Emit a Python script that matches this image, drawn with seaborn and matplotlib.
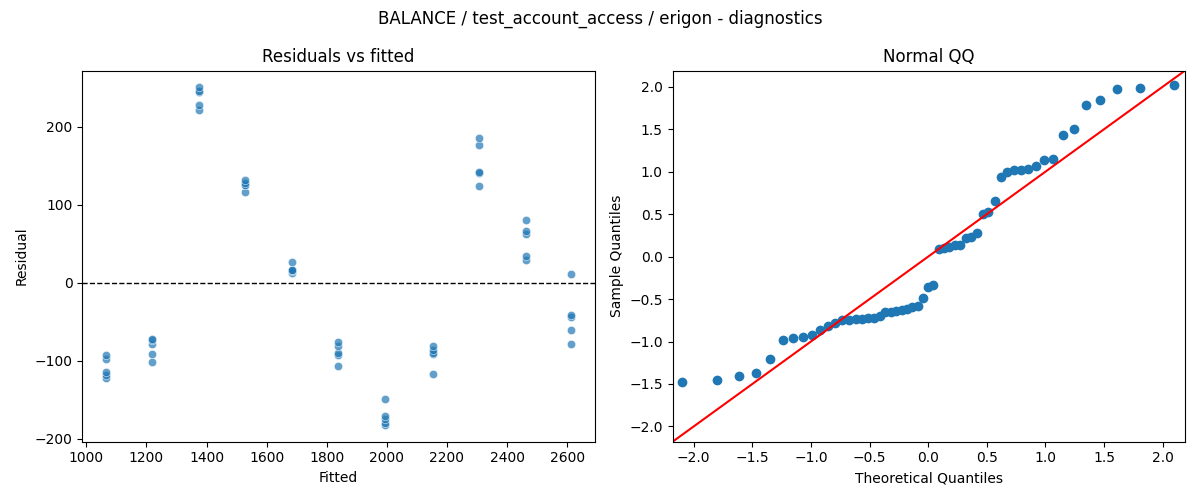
import statistics

import matplotlib
matplotlib.use("Agg")
import matplotlib.pyplot as plt
import numpy as np
import pandas as pd
import seaborn as sns

# fitted level of each group
fitted_levels = [1064, 1218, 1376, 1528, 1684, 1838, 1995, 2152, 2305, 2462, 2614]

# residuals of each group, 5 per level
residuals = [
    [-121.9, -119.0, -114.6, -97.5, -92.6],
    [-101.4, -91.6, -78.0, -73.2, -72.2],
    [221.3, 228.7, 244.8, 245.8, 250.6],
    [116.1, 125.9, 125.9, 127.7, 131.7],
    [13.1, 14.6, 16.6, 16.6, 26.8],
    [-107.3, -92.6, -90.1, -81.0, -76.0],
    [-182.4, -179.4, -174.6, -170.6, -149.7],
    [-117.1, -91.6, -90.1, -86.8, -81.0],
    [123.9, 141.4, 142.4, 177.4, 186.2],
    [29.3, 34.1, 61.9, 65.8, 80.5],
    [-79.0, -60.9, -43.9, -41.9, 10.8],
]

title = "BALANCE / test_account_access / erigon - diagnostics"

rows = []
for f, rs in zip(fitted_levels, residuals):
    for r in rs:
        rows.append({"fitted": f, "resid": r})
df = pd.DataFrame(rows)

# normal QQ: standardised residuals against normal plotting positions i/(n+1)
resid = np.sort(df["resid"].to_numpy())
n = len(resid)
sample_q = (resid - resid.mean()) / resid.std()
nd = statistics.NormalDist()
theo_q = np.array([nd.inv_cdf(i / (n + 1)) for i in range(1, n + 1)])
qq = pd.DataFrame({"theo": theo_q, "sample": sample_q})

fig, (ax1, ax2) = plt.subplots(1, 2, figsize=(12, 5), dpi=100)
fig.suptitle(title, fontsize=12)

# residuals vs fitted
sns.scatterplot(data=df, x="fitted", y="resid", ax=ax1, alpha=0.7)
ax1.axhline(0, color="black", linestyle="--", linewidth=1)
ax1.set_title("Residuals vs fitted")
ax1.set_xlabel("Fitted")
ax1.set_ylabel("Residual")

# normal QQ
sns.scatterplot(data=qq, x="theo", y="sample", ax=ax2, s=36,
                color="C0", edgecolor="C0", linewidth=1)
lo, hi = -2.18, 2.19
ax2.set_xlim(lo, hi)
ax2.set_ylim(lo, hi)
ax2.axline((0, 0), slope=1, color="red")
ax2.set_title("Normal QQ")
ax2.set_xlabel("Theoretical Quantiles")
ax2.set_ylabel("Sample Quantiles")

plt.tight_layout()
plt.savefig("out.png")
